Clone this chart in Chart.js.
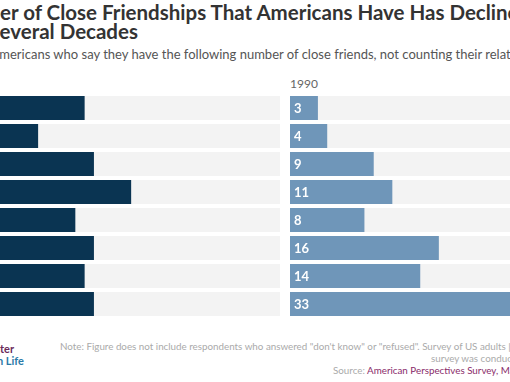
<!DOCTYPE html>
<html>
<head>
<meta charset="utf-8">
<script src="https://cdn.jsdelivr.net/npm/chart.js@4.4.1/dist/chart.umd.min.js"></script>
<style>
  html, body { margin: 0; padding: 0; }
  body { width: 510px; height: 382px; overflow: hidden; position: relative; background: #fff; font-family: Lato, sans-serif; }
  .txt { position: absolute; white-space: nowrap; }
  #title1, #title2 { font-size: 20.5px; font-weight: bold; color: #333; }
  #title1 { top: 0px; }
  #title2 { top: 19px; }
  #subtitle { top: 46px; font-size: 13px; color: #555; }
  #yearLabel { left: 290px; top: 76px; font-size: 12px; color: #666; }
  .note { font-size: 9.8px; color: #aaa; }
  .src { color: #8a2c6a; }
  .logo { font-size: 11px; font-weight: bold; }
  canvas { position: absolute; }
</style>
</head>
<body>
<div class="txt" id="title1">The Number of Close Friendships That Americans Have Has Declined</div>
<div class="txt" id="title2">Over Several Decades</div>
<div class="txt" id="subtitle">Percent of Americans who say they have the following number of close friends, not counting their relatives</div>
<div class="txt" id="yearLabel">1990</div>

<canvas id="chart2021" width="307" height="224" style="left:-27px; top:94px;"></canvas>
<canvas id="chart1990" width="307" height="224" style="left:290px; top:94px;"></canvas>

<div class="txt logo" style="right:496px; top:342px; color:#6b2a5a;">Survey Center</div>
<div class="txt logo" style="right:486px; top:354px; color:#2a7aa8;">on American Life</div>

<div class="txt note" style="left:60px; top:340px;">Note: Figure does not include respondents who answered "don't know" or "refused". Survey of US adults [N=2,019].</div>
<div class="txt note" style="left:431px; top:352px;">survey was conducted in May 2021.</div>
<div class="txt note" style="left:333px; top:364px;">Source: <span class="src">American Perspectives Survey, May 2021</span></div>

<script>
// Data
const categories = ['No close friends', 'One', 'Two', 'Three', 'Four', 'Five', 'Six to nine', 'Ten or more'];
const values2021 = [12, 7, 13, 17, 11, 13, 12, 13];
const values1990 = [3, 4, 9, 11, 8, 16, 14, 33];
const axisMax = 33;

// Shift the cropped title / subtitle lines so the visible part lines up
function shiftText(id, hiddenPart) {
    const el = document.getElementById(id);
    const c = document.createElement('canvas').getContext('2d');
    const st = getComputedStyle(el);
    c.font = st.fontWeight + ' ' + st.fontSize + ' ' + st.fontFamily;
    el.style.left = (-c.measureText(hiddenPart).width) + 'px';
}
shiftText('title1', 'The Numb');
shiftText('title2', 'Over S');
shiftText('subtitle', 'Percent of A');

// Gray track behind each bar
const trackPlugin = {
    id: 'track',
    beforeDatasetsDraw(chart) {
        const ctx = chart.ctx;
        const area = chart.chartArea;
        ctx.save();
        ctx.fillStyle = '#f3f3f3';
        chart.getDatasetMeta(0).data.forEach(bar => {
            ctx.fillRect(area.left, bar.y - bar.height / 2, area.right - area.left, bar.height);
        });
        ctx.restore();
    }
};

// White value labels at the start of each bar
const labelPlugin = {
    id: 'valueLabels',
    afterDatasetsDraw(chart) {
        const ctx = chart.ctx;
        const ds = chart.data.datasets[0];
        ctx.save();
        ctx.fillStyle = '#fff';
        ctx.font = 'bold 13px Lato, sans-serif';
        ctx.textBaseline = 'middle';
        chart.getDatasetMeta(0).data.forEach((bar, i) => {
            ctx.fillText(ds.data[i], bar.base + 4, bar.y + 1);
        });
        ctx.restore();
    }
};

function makeChart(id, values, color) {
    return new Chart(document.getElementById(id), {
        type: 'bar',
        data: {
            labels: categories,
            datasets: [{
                data: values,
                backgroundColor: color,
                barPercentage: 0.857,
                categoryPercentage: 1
            }]
        },
        options: {
            indexAxis: 'y',
            responsive: false,
            animation: false,
            layout: { padding: 0 },
            scales: {
                x: { display: false, min: 0, max: axisMax },
                y: { display: false }
            },
            plugins: {
                legend: { display: false },
                tooltip: { enabled: false }
            }
        },
        plugins: [trackPlugin, labelPlugin]
    });
}

makeChart('chart2021', values2021, '#0a3452');
makeChart('chart1990', values1990, '#6f96b9');
</script>
</body>
</html>
